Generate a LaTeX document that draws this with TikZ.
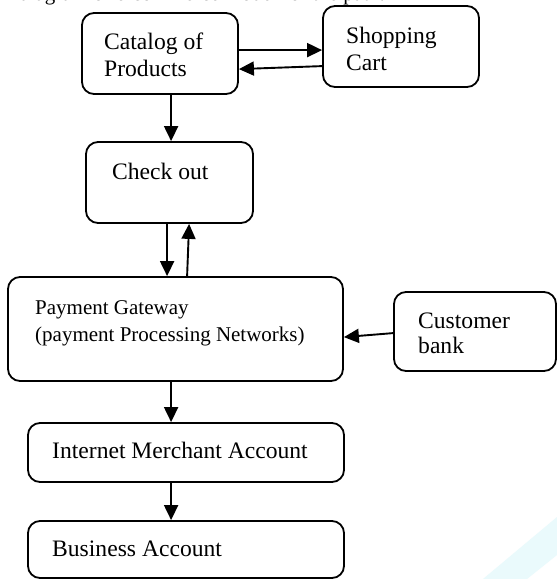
\documentclass[tikz,border=0pt]{standalone}
\usepackage{fontspec}
\setmainfont{Liberation Serif}
\usetikzlibrary{arrows.meta,calc}

\tikzset{
  box/.style={draw, line width=1.8pt, rounded corners=12pt, inner sep=0pt, fill=white},
  arr/.style={line width=1.9pt, -{Triangle[length=15pt,width=14pt]}},
  lbl/.style={inner sep=0pt, anchor=base west, align=left,
    font=\fontsize{23.6}{27}\selectfont},
  lblsmall/.style={lbl, font=\fontsize{21}{27}\selectfont},
}

\begin{document}
\begin{tikzpicture}[x=1pt,y=-1pt]
  \clip (0,0) rectangle (557,579);
  \fill[white] (0,0) rectangle (557,579);

  % faint decorative band in the lower right corner
  \fill[color={rgb,255:red,234;green,250;blue,252}]
    (483,579) -- (557,517) -- (557,555) -- (527,579) -- cycle;

  % caption line running off the top edge
  \node[inner sep=0pt, anchor=base east, font=\fontsize{21}{25}\selectfont]
    (caption) at (385,0.5) {diagram of e-commerce model for the path.};

  % boxes
  \node[box, minimum width=156, minimum height=81] (cat)  at (160,53.5)  {};
  \node[box, minimum width=156, minimum height=81] (cart) at (401,46.5)  {};
  \node[box, minimum width=167, minimum height=81] (chk)  at (169.5,182.5) {};
  \node[box, minimum width=335, minimum height=104] (pg)  at (175.5,329) {};
  \node[box, minimum width=162, minimum height=79] (cb)   at (475,331.5) {};
  \node[box, minimum width=316, minimum height=59] (ima)  at (186,452.5) {};
  \node[box, minimum width=316, minimum height=57] (ba)   at (186,549.5) {};

  % labels (multi-line labels sit on the baseline of their last line)
  \node[lbl] (catT)  at (104,76)  {Catalog of\\Products};
  \node[lbl] (cartT) at (346,70)  {Shopping\\Cart};
  \node[lbl] (chkT)  at (112,179) {Check out};
  \node[lblsmall] (pgT) at (35,341) {Payment Gateway\\(payment Processing Networks)};
  \node[lbl, font=\fontsize{23.6}{25}\selectfont] (cbT) at (418,353) {Customer\\bank};
  \node[lbl] (imaT)  at (52,458)  {Internet Merchant Account};
  \node[lbl] (baT)   at (52,556)  {Business Account};

  % connectors
  \draw[arr] ($(cat.north east)+(0,38)$) -- ($(cart.north west)+(0,45)$);
  \draw[arr] ($(cart.north west)+(0,61)$) -- ($(cat.north east)+(0,57)$);
  \draw[arr] ($(cat.south west)+(90,0)$) -- ($(chk.north west)+(86,0)$);
  \draw[arr] ($(chk.south west)+(82,0)$) -- ($(pg.north west)+(160,0)$);
  \draw[arr] ($(pg.north west)+(180,0)$) -- ($(chk.south west)+(104,0)$);
  \draw[arr] ($(cb.north west)+(0,42)$) -- ($(pg.north east)+(0,61)$);
  \draw[arr] ($(pg.south west)+(164,0)$) -- ($(ima.north west)+(144,0)$);
  \draw[arr] ($(ima.south west)+(144,0)$) -- ($(ba.north west)+(144,0)$);
\end{tikzpicture}
\end{document}
